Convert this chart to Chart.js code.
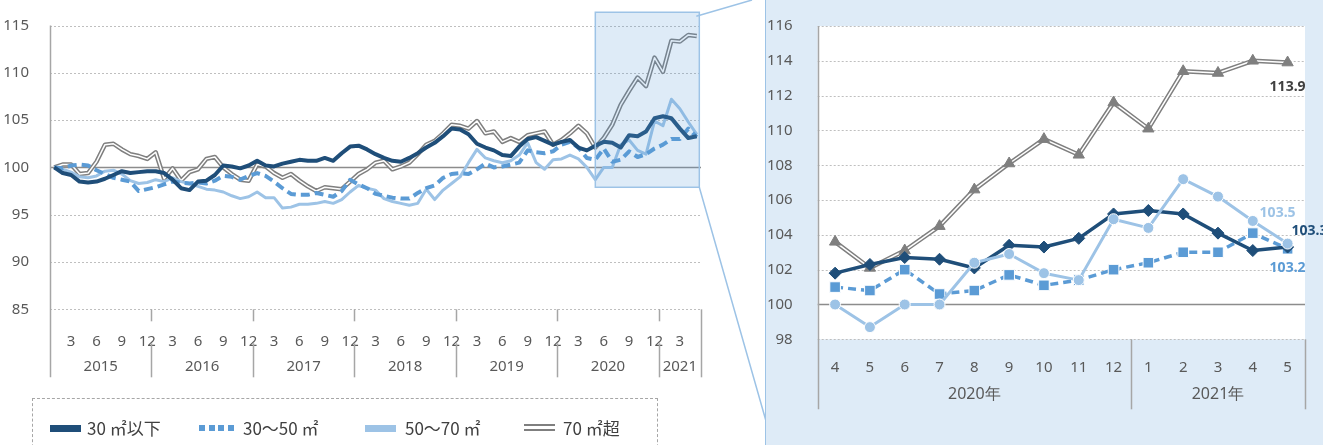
<!DOCTYPE html>
<html lang="ja">
<head>
<meta charset="utf-8">
<title>面積帯別 価格指数の推移</title>
<script src="https://cdn.jsdelivr.net/npm/chart.js@4.4.1/dist/chart.umd.min.js"></script>
<style>
  html, body { margin: 0; padding: 0; background: #ffffff; }
  body { position: relative; width: 1323px; height: 445px; overflow: hidden; }
  #mainChart { position: absolute; left: 0; top: 0; }
  #panel { position: absolute; left: 765px; top: 0; width: 558px; height: 445px; background: #DEEBF7;
           border-left: 1.5px solid #9DC3E6; box-sizing: border-box; }
  #detailChart { position: absolute; left: 766px; top: 0; }
  #legendBox { position: absolute; left: 32px; top: 398px; width: 626px; height: 70px;
               border: 1px dashed #A6A6A6; box-sizing: border-box; }
  .lg-text { position: absolute; top: 418px; font-family: "Noto Sans CJK JP", sans-serif; font-size: 17px;
             line-height: 20px; color: #404040; white-space: nowrap; }
  .lg-sym { position: absolute; }
  .sym-bar { height: 7px; width: 31px; top: 424.5px; }
  .sym-dots { top: 425px; height: 6px; width: 36px; }
  .sym-dots span { position: absolute; top: 0; width: 6px; height: 6px; }
  .sym-double { top: 424px; width: 31px; height: 3px; border-top: 2.5px solid #7F7F7F; border-bottom: 2.5px solid #7F7F7F; background: #fff; }
</style>
</head>
<body>
<canvas id="mainChart" width="766" height="445"></canvas>
<div id="panel"></div>
<canvas id="detailChart" width="557" height="445"></canvas>
<div id="legendBox"></div>
<div id="legend"></div>
<script>
// ---- data ----
const years = ['2015', '2016', '2017', '2018', '2019', '2020', '2021'];
const monthsPerYear = [12, 12, 12, 12, 12, 12, 5];
const seriesNames = ['30 ㎡以下', '30〜50 ㎡', '50〜70 ㎡', '70 ㎡超'];
const mainYRange = [85, 115, 5];
const detailYRange = [98, 116, 2];
const detailFrom = 63;           // 2020年4月から拡大表示
const yearSuffix = '年';

// 30㎡以下
const s30 = [
  100.0, 99.4, 99.2, 98.5, 98.4, 98.5, 98.8, 99.2, 99.6, 99.4, 99.5, 99.6,
  99.6, 99.4, 98.7, 97.8, 97.6, 98.5, 98.6, 99.2, 100.2, 100.1, 99.9, 100.2,
  100.7, 100.2, 100.1, 100.4, 100.6, 100.8, 100.7, 100.7, 101.0, 100.7, 101.5, 102.2,
  102.3, 101.9, 101.4, 101.0, 100.7, 100.6, 101.0, 101.5, 102.1, 102.6, 103.3, 104.1,
  104.0, 103.5, 102.5, 102.1, 101.8, 101.3, 101.2, 102.2, 103.0, 103.2, 102.8, 102.4,
  102.7, 102.9, 102.1, 101.8, 102.3, 102.7, 102.6, 102.1, 103.4, 103.3, 103.8, 105.2,
  105.4, 105.2, 104.1, 103.1, 103.3
];
// 30〜50㎡
const s3050 = [
  100.0, 99.9, 100.2, 100.3, 100.2, 99.7, 99.3, 98.9, 98.7, 98.5, 97.5, 97.7,
  97.9, 98.2, 98.5, 98.4, 98.3, 98.4, 98.3, 98.6, 99.1, 99.0, 98.7, 99.1,
  99.4, 99.1, 98.5, 97.8, 97.2, 97.1, 97.1, 97.3, 97.1, 96.9, 97.5, 98.7,
  98.2, 97.8, 97.2, 97.0, 96.8, 96.7, 96.7, 97.3, 97.8, 98.1, 98.9, 99.3,
  99.4, 99.3, 99.8, 100.4, 100.0, 100.1, 100.3, 100.5, 101.8, 101.6, 101.5, 101.7,
  102.4, 102.7, 102.1, 101.0, 100.8, 102.0, 100.6, 100.8, 101.7, 101.1, 101.4, 102.0,
  102.4, 103.0, 103.0, 104.1, 103.2
];
// 50〜70㎡
const s5070 = [
  100.0, 99.8, 99.5, 99.0, 98.9, 99.1, 99.6, 99.7, 99.3, 98.6, 98.3, 98.4,
  98.7, 98.5, 98.9, 98.5, 98.3, 98.0, 97.7, 97.6, 97.4, 97.0, 96.7, 96.9,
  97.4, 96.8, 96.8, 95.7, 95.8, 96.1, 96.1, 96.2, 96.4, 96.2, 96.6, 97.4,
  98.1, 97.8, 97.6, 96.7, 96.4, 96.2, 96.0, 96.2, 97.7, 96.6, 97.6, 98.3,
  99.0, 100.5, 101.9, 101.0, 100.7, 100.5, 100.7, 101.3, 102.6, 100.5, 99.8, 100.8,
  100.9, 101.3, 100.9, 100.0, 98.7, 100.0, 100.0, 102.4, 102.9, 101.8, 101.4, 104.9,
  104.4, 107.2, 106.2, 104.8, 103.5
];
// 70㎡超
const s70 = [
  100.0, 100.3, 100.3, 99.3, 99.4, 100.6, 102.4, 102.5, 101.9, 101.4, 101.2, 100.9,
  101.6, 98.8, 99.9, 98.6, 99.5, 99.8, 100.9, 101.1, 100.0, 99.3, 98.7, 98.6,
  100.3, 100.1, 99.4, 98.9, 99.3, 98.6, 98.0, 97.5, 97.9, 97.8, 97.7, 98.5,
  99.3, 99.8, 100.5, 100.7, 99.8, 100.1, 100.5, 101.4, 102.4, 102.8, 103.6, 104.5,
  104.4, 104.1, 104.9, 103.6, 103.8, 102.7, 103.1, 102.7, 103.4, 103.6, 103.8, 102.4,
  102.9, 103.6, 104.4, 103.6, 102.1, 103.1, 104.5, 106.6, 108.1, 109.5, 108.6, 111.6,
  110.1, 113.4, 113.3, 114.0, 113.9
];

// ---- styles ----
const NAVY = '#1F4E79', MID = '#5B9BD5', LIGHT = '#9DC3E6', GRAY = '#7F7F7F';
const TXT = '#595959', AXIS = '#A6A6A6';
const FONT = '"Noto Sans", sans-serif';

// month number and year index of every category
const monthNums = [], yearIdx = [];
years.forEach((y, k) => {
  for (let m = 1; m <= monthsPerYear[k]; m++) { monthNums.push(m); yearIdx.push(k); }
});

function yearGroups(from, suffix) {
  const groups = [];
  for (let i = from; i < monthNums.length; i++) {
    const g = groups[groups.length - 1];
    if (g && g.k === yearIdx[i]) g.to = i - from;
    else groups.push({ k: yearIdx[i], label: years[yearIdx[i]] + suffix, from: i - from, to: i - from });
  }
  return groups;
}

function drawGrid(ctx, a, yScale) {
  ctx.save();
  yScale.ticks.forEach(t => {
    const py = Math.round(yScale.getPixelForValue(t.value)) + 0.5;
    ctx.beginPath();
    if (t.value === 100) { ctx.setLineDash([]); ctx.strokeStyle = '#8C8C8C'; ctx.lineWidth = 1.5; }
    else { ctx.setLineDash([2, 2]); ctx.strokeStyle = '#BFBFBF'; ctx.lineWidth = 1; }
    ctx.moveTo(a.left, py); ctx.lineTo(a.right, py); ctx.stroke();
  });
  ctx.restore();
}

function vline(ctx, x, y0, y1) {
  const px = Math.round(x) + 0.5;
  ctx.beginPath(); ctx.moveTo(px, y0); ctx.lineTo(px, y1); ctx.stroke();
}

// frame + year captions under a monthly category axis
function drawYearAxis(ctx, chart, groups, o) {
  const { chartArea: a, scales: { x } } = chart;
  const n = chart.data.labels.length;
  ctx.save();
  ctx.strokeStyle = AXIS; ctx.lineWidth = 1.5;
  vline(ctx, a.left, a.top, a.bottom + o.depth);
  groups.slice(1).forEach(g => {
    const bx = x.getPixelForValue(g.from - 0.5);
    if (o.splitTick) {
      vline(ctx, bx, a.bottom, a.bottom + o.tick);
      vline(ctx, bx, a.bottom + o.sepStart, a.bottom + o.depth);
    } else {
      vline(ctx, bx, a.bottom, a.bottom + o.depth);
    }
  });
  vline(ctx, x.getPixelForValue(n - 0.5), a.bottom, a.bottom + o.depth);
  ctx.fillStyle = TXT;
  ctx.font = o.font;
  ctx.textAlign = 'center'; ctx.textBaseline = 'middle';
  groups.forEach(g => {
    const cx = (x.getPixelForValue(g.from) + x.getPixelForValue(g.to)) / 2;
    ctx.fillText(g.label, cx, a.bottom + o.labelY);
  });
  ctx.restore();
}

// ---- main chart (2015〜2021) ----
const callout = { from: 64, to: 76.3, low: 97.9, high: 116.4 };
const mainGroups = yearGroups(0, '');

const mainDecor = {
  id: 'mainDecor',
  beforeDatasetsDraw(chart) {
    drawGrid(chart.ctx, chart.chartArea, chart.scales.y);
  },
  afterDatasetsDraw(chart) {
    const { ctx, scales: { x, y } } = chart;
    const x0 = x.getPixelForValue(callout.from), x1 = x.getPixelForValue(callout.to);
    const y0 = y.getPixelForValue(callout.high), y1 = y.getPixelForValue(callout.low);
    ctx.save();
    ctx.fillStyle = 'rgba(91,155,213,0.2)';
    ctx.fillRect(x0, y0, x1 - x0, y1 - y0);
    ctx.strokeStyle = LIGHT; ctx.lineWidth = 1.5;
    ctx.strokeRect(x0, y0, x1 - x0, y1 - y0);
    ctx.beginPath();
    ctx.moveTo(x1 - 3, y0 + 4); ctx.lineTo(752, 0);
    ctx.moveTo(x1, y1); ctx.lineTo(766, 421);
    ctx.stroke();
    ctx.restore();
  },
  afterDraw(chart) {
    drawYearAxis(chart.ctx, chart, mainGroups,
      { depth: 68, tick: 12, sepStart: 34, splitTick: true, labelY: 57, font: '15px ' + FONT });
  }
};

new Chart(document.getElementById('mainChart'), {
  type: 'line',
  data: {
    labels: monthNums.map(String),
    datasets: [
      { label: seriesNames[0], data: s30, borderColor: NAVY, borderWidth: 4, order: 0 },
      { label: seriesNames[1], data: s3050, borderColor: MID, borderWidth: 4, borderDash: [9, 5], order: 1 },
      { label: seriesNames[2], data: s5070, borderColor: LIGHT, borderWidth: 3, order: 2 },
      { label: seriesNames[3], data: s70, borderColor: '#ffffff', borderWidth: 1.5, order: 3 },
      { label: seriesNames[3], data: s70, borderColor: GRAY, borderWidth: 4.5, order: 4 }
    ]
  },
  options: {
    responsive: false,
    animation: false,
    elements: { point: { radius: 0 }, line: { tension: 0, borderJoinStyle: 'round', fill: false } },
    layout: { padding: { top: 25.5, right: 65, left: 0, bottom: 0 } },
    plugins: { legend: { display: false }, tooltip: { enabled: false } },
    scales: {
      x: {
        offset: true,
        grid: { display: false }, border: { display: false },
        ticks: {
          autoSkip: false, maxRotation: 0, minRotation: 0, padding: 15, color: TXT,
          font: { family: FONT, size: 15 },
          callback: (v, i) => (monthNums[i] % 3 === 0 ? String(monthNums[i]) : '')
        },
        afterFit: s => { s.height = 135.7; }
      },
      y: {
        min: mainYRange[0], max: mainYRange[1],
        grid: { display: false }, border: { display: false },
        ticks: { stepSize: mainYRange[2], padding: 13, color: TXT, font: { family: FONT, size: 15 } },
        afterFit: s => { s.width = 50; }
      }
    }
  },
  plugins: [mainDecor]
});

// ---- detail chart (2020年4月〜2021年5月) ----
const d30 = s30.slice(detailFrom);
const d3050 = s3050.slice(detailFrom);
const d5070 = s5070.slice(detailFrom);
const d70 = s70.slice(detailFrom);
const detailMonths = monthNums.slice(detailFrom).map(String);
const detailGroups = yearGroups(detailFrom, yearSuffix);

const endLabels = [
  { data: d70, color: '#404040', dx: 0, dy: 24, align: 'center' },
  { data: d5070, color: LIGHT, dx: -10, dy: -31, align: 'center' },
  { data: d30, color: NAVY, dx: 4, dy: -16, align: 'left' },
  { data: d3050, color: MID, dx: 0, dy: 19, align: 'center' }
];

const detailDecor = {
  id: 'detailDecor',
  beforeDraw(chart) {
    const { ctx, chartArea: a } = chart;
    ctx.save();
    ctx.fillStyle = '#ffffff';
    ctx.fillRect(a.left, a.top, a.right - a.left, a.bottom - a.top);
    ctx.restore();
  },
  beforeDatasetsDraw(chart) {
    drawGrid(chart.ctx, chart.chartArea, chart.scales.y);
  },
  afterDatasetsDraw(chart) {
    const { ctx, scales: { x, y } } = chart;
    ctx.save();
    ctx.font = 'bold 14px ' + FONT;
    ctx.textBaseline = 'middle';
    endLabels.forEach(l => {
      const i = l.data.length - 1;
      const v = l.data[i];
      ctx.fillStyle = l.color;
      ctx.textAlign = l.align;
      ctx.fillText(v.toFixed(1), x.getPixelForValue(i) + l.dx, y.getPixelForValue(v) + l.dy);
    });
    ctx.restore();
  },
  afterDraw(chart) {
    drawYearAxis(chart.ctx, chart, detailGroups,
      { depth: 70, splitTick: false, labelY: 55, font: '16px ' + FONT });
  }
};

new Chart(document.getElementById('detailChart'), {
  type: 'line',
  data: {
    labels: detailMonths,
    datasets: [
      { label: seriesNames[2], data: d5070, borderColor: LIGHT, borderWidth: 3, order: 0,
        pointStyle: 'circle', pointRadius: 5.5, pointBackgroundColor: LIGHT, pointBorderColor: '#ffffff', pointBorderWidth: 1 },
      { label: seriesNames[0], data: d30, borderColor: NAVY, borderWidth: 3.5, order: 1,
        pointStyle: 'rectRot', pointRadius: 6, pointBackgroundColor: NAVY, pointBorderColor: NAVY, pointBorderWidth: 1 },
      { label: seriesNames[1], data: d3050, borderColor: MID, borderWidth: 3.5, borderDash: [8, 5], order: 2,
        pointStyle: 'rect', pointRadius: 7.5, pointBackgroundColor: MID, pointBorderColor: '#ffffff', pointBorderWidth: 1 },
      { label: seriesNames[3], data: d70, showLine: false, order: 3,
        pointStyle: 'triangle', pointRadius: 6.5, pointBackgroundColor: GRAY, pointBorderColor: GRAY, pointBorderWidth: 1 },
      { label: seriesNames[3], data: d70, borderColor: '#ffffff', borderWidth: 1.5, pointRadius: 0, order: 4 },
      { label: seriesNames[3], data: d70, borderColor: GRAY, borderWidth: 4.5, pointRadius: 0, order: 5 }
    ]
  },
  options: {
    responsive: false,
    animation: false,
    elements: { line: { tension: 0, borderJoinStyle: 'round', fill: false } },
    layout: { padding: { top: 22.7, right: 18, left: 0, bottom: 0 } },
    plugins: { legend: { display: false }, tooltip: { enabled: false } },
    scales: {
      x: {
        offset: true,
        grid: { display: false }, border: { display: false },
        ticks: { autoSkip: false, maxRotation: 0, minRotation: 0, padding: 11, color: TXT,
                 font: { family: FONT, size: 15 } },
        afterFit: s => { s.height = 105.7; }
      },
      y: {
        min: detailYRange[0], max: detailYRange[1],
        grid: { display: false }, border: { display: false },
        ticks: { stepSize: detailYRange[2], padding: 17, color: TXT, font: { family: FONT, size: 15 } },
        afterFit: s => { s.width = 51.7; }
      }
    }
  },
  plugins: [detailDecor]
});

// ---- legend ----
const legendSlots = [{ sym: 50, text: 87 }, { sym: 199, text: 243 }, { sym: 365, text: 405 }, { sym: 524, text: 563 }];
const legendKinds = [
  { kind: 'bar', color: NAVY },
  { kind: 'dots', color: MID },
  { kind: 'bar', color: LIGHT },
  { kind: 'double', color: GRAY }
];
const legend = document.getElementById('legend');
seriesNames.forEach((name, i) => {
  const slot = legendSlots[i], k = legendKinds[i];
  const sym = document.createElement('div');
  sym.className = 'lg-sym ' + (k.kind === 'bar' ? 'sym-bar' : k.kind === 'dots' ? 'sym-dots' : 'sym-double');
  sym.style.left = slot.sym + 'px';
  if (k.kind === 'bar') sym.style.background = k.color;
  if (k.kind === 'dots') {
    for (let d = 0; d < 4; d++) {
      const s = document.createElement('span');
      s.style.left = (d * 9.5) + 'px';
      s.style.background = k.color;
      sym.appendChild(s);
    }
  }
  legend.appendChild(sym);
  const t = document.createElement('div');
  t.className = 'lg-text';
  t.style.left = slot.text + 'px';
  t.textContent = name;
  legend.appendChild(t);
});
</script>
</body>
</html>
